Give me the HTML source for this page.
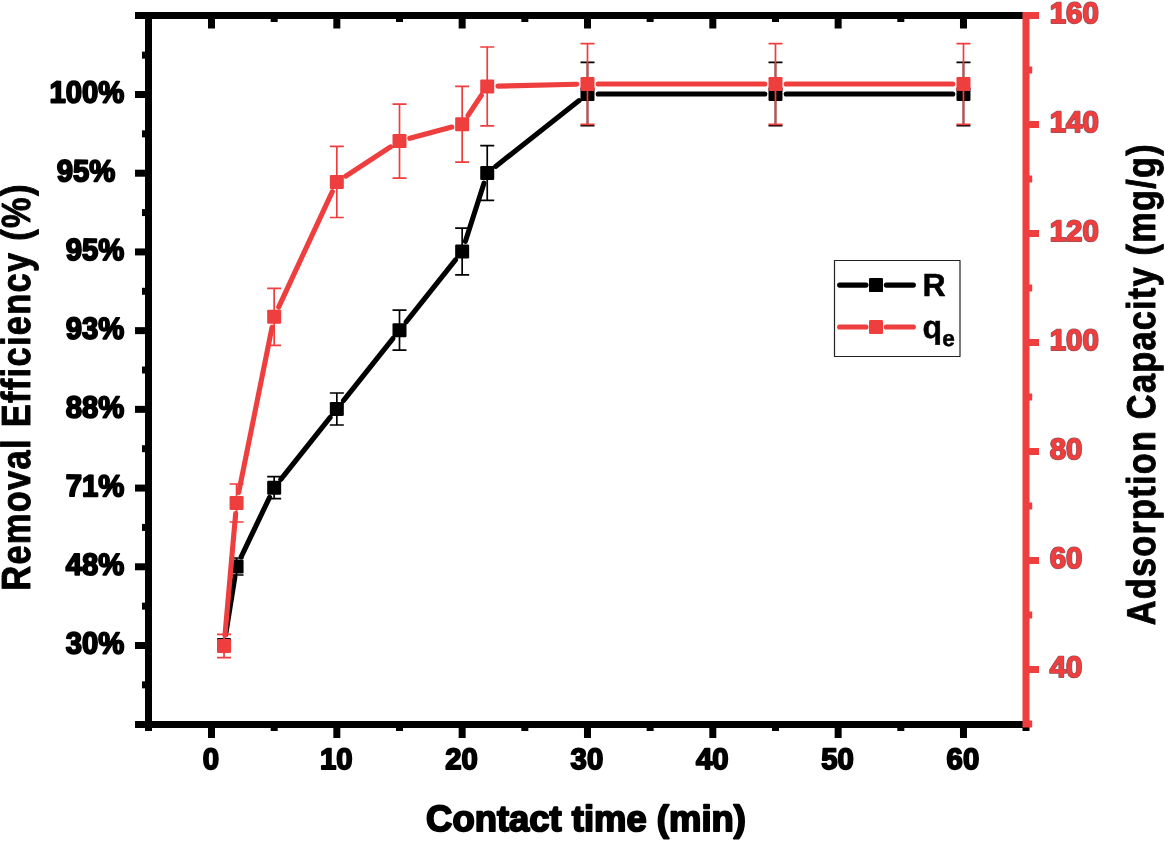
<!DOCTYPE html>
<html lang="en"><head><meta charset="utf-8"><title>Removal efficiency and adsorption capacity chart</title>
<style>html,body{margin:0;padding:0;background:#fff}body{width:1165px;height:841px;overflow:hidden}svg{display:block}</style>
</head><body>
<svg width="1165" height="841" viewBox="0 0 1165 841">
<rect width="1165" height="841" fill="#fff"/>
<g font-family="'Liberation Sans', sans-serif" font-weight="bold" stroke-linejoin="round" text-rendering="geometricPrecision" style="font-kerning:none;font-variant-ligatures:none">
<g fill="#000">
<rect x="135" y="12" width="888" height="7"/>
<rect x="135" y="721" width="888" height="7"/>
<rect x="145" y="12" width="7" height="719"/>
<rect x="135" y="91.00" width="11" height="7"/>
<rect x="135" y="169.71" width="11" height="7"/>
<rect x="135" y="248.43" width="11" height="7"/>
<rect x="135" y="327.14" width="11" height="7"/>
<rect x="135" y="405.86" width="11" height="7"/>
<rect x="135" y="484.57" width="11" height="7"/>
<rect x="135" y="563.28" width="11" height="7"/>
<rect x="135" y="642.00" width="11" height="7"/>
<rect x="142" y="51.64" width="4" height="7"/>
<rect x="142" y="130.36" width="4" height="7"/>
<rect x="142" y="209.07" width="4" height="7"/>
<rect x="142" y="287.78" width="4" height="7"/>
<rect x="142" y="366.50" width="4" height="7"/>
<rect x="142" y="445.21" width="4" height="7"/>
<rect x="142" y="523.93" width="4" height="7"/>
<rect x="142" y="602.64" width="4" height="7"/>
<rect x="142" y="681.36" width="4" height="7"/>
<rect x="208.00" y="18" width="7" height="10.5"/>
<rect x="208.00" y="727" width="7" height="11"/>
<rect x="333.33" y="18" width="7" height="10.5"/>
<rect x="333.33" y="727" width="7" height="11"/>
<rect x="458.66" y="18" width="7" height="10.5"/>
<rect x="458.66" y="727" width="7" height="11"/>
<rect x="583.99" y="18" width="7" height="10.5"/>
<rect x="583.99" y="727" width="7" height="11"/>
<rect x="709.32" y="18" width="7" height="10.5"/>
<rect x="709.32" y="727" width="7" height="11"/>
<rect x="834.65" y="18" width="7" height="10.5"/>
<rect x="834.65" y="727" width="7" height="11"/>
<rect x="959.98" y="18" width="7" height="10.5"/>
<rect x="959.98" y="727" width="7" height="11"/>
<rect x="270.67" y="18" width="7" height="4"/>
<rect x="270.67" y="727" width="7" height="4"/>
<rect x="396.00" y="18" width="7" height="4"/>
<rect x="396.00" y="727" width="7" height="4"/>
<rect x="521.33" y="18" width="7" height="4"/>
<rect x="521.33" y="727" width="7" height="4"/>
<rect x="646.65" y="18" width="7" height="4"/>
<rect x="646.65" y="727" width="7" height="4"/>
<rect x="771.99" y="18" width="7" height="4"/>
<rect x="771.99" y="727" width="7" height="4"/>
<rect x="897.31" y="18" width="7" height="4"/>
<rect x="897.31" y="727" width="7" height="4"/>
<rect x="1022.5" y="727" width="7" height="4"/>
</g>
<g fill="#EF3E3E">
<rect x="1022.5" y="12" width="7" height="715.5"/>
<rect x="1029" y="666.00" width="10" height="7"/>
<rect x="1029" y="557.00" width="10" height="7"/>
<rect x="1029" y="448.00" width="10" height="7"/>
<rect x="1029" y="339.00" width="10" height="7"/>
<rect x="1029" y="230.00" width="10" height="7"/>
<rect x="1029" y="121.00" width="10" height="7"/>
<rect x="1029" y="12.00" width="10" height="7"/>
<rect x="1029" y="720.50" width="3.2" height="7"/>
<rect x="1029" y="611.50" width="3.2" height="7"/>
<rect x="1029" y="502.50" width="3.2" height="7"/>
<rect x="1029" y="393.50" width="3.2" height="7"/>
<rect x="1029" y="284.50" width="3.2" height="7"/>
<rect x="1029" y="175.50" width="3.2" height="7"/>
<rect x="1029" y="66.50" width="3.2" height="7"/>
</g>
<g stroke="#000" stroke-width="5.1" stroke-linecap="round" fill="none">
<line x1="225.72" y1="634.43" x2="234.88" y2="577.07"/>
<line x1="241.17" y1="556.84" x2="269.56" y2="497.36"/>
<line x1="280.83" y1="479.33" x2="330.16" y2="417.37"/>
<line x1="343.49" y1="400.63" x2="392.84" y2="338.57"/>
<line x1="406.16" y1="321.83" x2="455.49" y2="259.87"/>
<line x1="465.41" y1="241.31" x2="483.97" y2="183.19"/>
<line x1="495.63" y1="166.38" x2="579.09" y2="100.62"/>
<line x1="598.19" y1="94.00" x2="764.78" y2="94.00"/>
<line x1="786.19" y1="94.00" x2="952.78" y2="94.00"/>
</g>
<g stroke="#000" stroke-width="1.7" fill="none">
<path d="M224.03 642.00V648.00M217.03 642.00h14M217.03 648.00h14"/>
<path d="M236.57 558.00V575.00M229.57 558.00h14M229.57 575.00h14"/>
<path d="M274.17 476.70V498.70M267.17 476.70h14M267.17 498.70h14"/>
<path d="M336.83 393.00V425.00M329.83 393.00h14M329.83 425.00h14"/>
<path d="M399.50 310.20V350.20M392.50 310.20h14M392.50 350.20h14"/>
<path d="M462.16 228.20V274.80M455.16 228.20h14M455.16 274.80h14"/>
<path d="M487.23 145.70V200.30M480.23 145.70h14M480.23 200.30h14"/>
<path d="M587.49 62.40V125.60M580.49 62.40h14M580.49 125.60h14"/>
<path d="M775.49 62.40V125.60M768.49 62.40h14M768.49 125.60h14"/>
<path d="M963.48 62.40V125.60M956.48 62.40h14M956.48 125.60h14"/>
</g>
<g fill="#000">
<rect x="217.03" y="638.00" width="14" height="14" rx="1.2"/>
<rect x="229.57" y="559.50" width="14" height="14" rx="1.2"/>
<rect x="267.17" y="480.70" width="14" height="14" rx="1.2"/>
<rect x="329.83" y="402.00" width="14" height="14" rx="1.2"/>
<rect x="392.50" y="323.20" width="14" height="14" rx="1.2"/>
<rect x="455.16" y="244.50" width="14" height="14" rx="1.2"/>
<rect x="480.23" y="166.00" width="14" height="14" rx="1.2"/>
<rect x="580.49" y="87.00" width="14" height="14" rx="1.2"/>
<rect x="768.49" y="87.00" width="14" height="14" rx="1.2"/>
<rect x="956.48" y="87.00" width="14" height="14" rx="1.2"/>
</g>
<g stroke="#EF3E3E" stroke-width="5.1" stroke-linecap="round" fill="none">
<line x1="224.97" y1="635.34" x2="235.63" y2="513.66"/>
<line x1="238.68" y1="492.51" x2="272.05" y2="327.29"/>
<line x1="278.67" y1="307.10" x2="332.32" y2="191.60"/>
<line x1="345.80" y1="176.06" x2="390.53" y2="146.94"/>
<line x1="409.83" y1="138.33" x2="451.82" y2="127.07"/>
<line x1="468.06" y1="115.38" x2="481.32" y2="95.32"/>
<line x1="497.92" y1="86.14" x2="576.79" y2="84.26"/>
<line x1="598.19" y1="84.00" x2="764.78" y2="84.00"/>
<line x1="786.19" y1="84.00" x2="952.78" y2="84.00"/>
</g>
<g stroke="#EF3E3E" stroke-width="1.7" fill="none">
<path d="M224.03 634.40V657.60M217.03 634.40h14M217.03 657.60h14"/>
<path d="M236.57 484.00V522.00M229.57 484.00h14M229.57 522.00h14"/>
<path d="M274.17 288.30V345.30M267.17 288.30h14M267.17 345.30h14"/>
<path d="M336.83 146.30V217.50M329.83 146.30h14M329.83 217.50h14"/>
<path d="M399.50 104.10V178.10M392.50 104.10h14M392.50 178.10h14"/>
<path d="M462.16 86.40V162.20M455.16 86.40h14M455.16 162.20h14"/>
<path d="M487.23 47.00V125.80M480.23 47.00h14M480.23 125.80h14"/>
<path d="M587.49 43.70V124.30M580.49 43.70h14M580.49 124.30h14"/>
<path d="M775.49 43.70V124.30M768.49 43.70h14M768.49 124.30h14"/>
<path d="M963.48 43.70V124.30M956.48 43.70h14M956.48 124.30h14"/>
</g>
<g fill="#EF3E3E">
<rect x="217.03" y="639.00" width="14" height="14" rx="1.2"/>
<rect x="229.57" y="496.00" width="14" height="14" rx="1.2"/>
<rect x="267.17" y="309.80" width="14" height="14" rx="1.2"/>
<rect x="329.83" y="174.90" width="14" height="14" rx="1.2"/>
<rect x="392.50" y="134.10" width="14" height="14" rx="1.2"/>
<rect x="455.16" y="117.30" width="14" height="14" rx="1.2"/>
<rect x="480.23" y="79.40" width="14" height="14" rx="1.2"/>
<rect x="580.49" y="77.00" width="14" height="14" rx="1.2"/>
<rect x="768.49" y="77.00" width="14" height="14" rx="1.2"/>
<rect x="956.48" y="77.00" width="14" height="14" rx="1.2"/>
</g>
<rect x="834.5" y="260.5" width="125.5" height="96" fill="#fff" stroke="#222" stroke-width="1.2"/>
<g stroke="#000" stroke-width="5.1" stroke-linecap="round"><line x1="839.6" y1="285.1" x2="866" y2="285.1"/><line x1="886.3" y1="285.1" x2="913.4" y2="285.1"/></g>
<rect x="869" y="278.1" width="14" height="14" rx="1.2" fill="#000"/>
<g stroke="#EF3E3E" stroke-width="5.1" stroke-linecap="round"><line x1="839.6" y1="327.0" x2="866" y2="327.0"/><line x1="886.3" y1="327.0" x2="913.4" y2="327.0"/></g>
<rect x="869" y="320.0" width="14" height="14" rx="1.2" fill="#EF3E3E"/>
<text x="922.6" y="295.6" font-size="32" stroke="#000" stroke-width="0.5">R</text>
<text x="922.6" y="338.4" font-size="32" stroke="#000" stroke-width="0.5">q<tspan font-size="22.5" dy="7.8" dx="0.2">e</tspan></text>
<text transform="translate(124.3 102.60) rotate(0.05) scale(1.008 1.05)" font-size="29" text-anchor="end" stroke="#000" stroke-width="1.8">100%</text>
<text transform="translate(115.3 181.31) rotate(0.05) scale(1.008 1.05)" font-size="29" text-anchor="end" stroke="#000" stroke-width="1.8">95%</text>
<text transform="translate(124.3 260.03) rotate(0.05) scale(1.008 1.05)" font-size="29" text-anchor="end" stroke="#000" stroke-width="1.8">95%</text>
<text transform="translate(124.3 338.74) rotate(0.05) scale(1.008 1.05)" font-size="29" text-anchor="end" stroke="#000" stroke-width="1.8">93%</text>
<text transform="translate(124.3 417.46) rotate(0.05) scale(1.008 1.05)" font-size="29" text-anchor="end" stroke="#000" stroke-width="1.8">88%</text>
<text transform="translate(124.3 496.17) rotate(0.05) scale(1.008 1.05)" font-size="29" text-anchor="end" stroke="#000" stroke-width="1.8">71%</text>
<text transform="translate(124.3 574.88) rotate(0.05) scale(1.008 1.05)" font-size="29" text-anchor="end" stroke="#000" stroke-width="1.8">48%</text>
<text transform="translate(124.3 653.60) rotate(0.05) scale(1.008 1.05)" font-size="29" text-anchor="end" stroke="#000" stroke-width="1.8">30%</text>
<text transform="translate(210.90 769.2) scale(1.01 1.02)" font-size="29" text-anchor="middle" stroke="#000" stroke-width="1.8">0</text>
<text transform="translate(336.23 769.2) scale(1.01 1.02)" font-size="29" text-anchor="middle" stroke="#000" stroke-width="1.8">10</text>
<text transform="translate(461.56 769.2) scale(1.01 1.02)" font-size="29" text-anchor="middle" stroke="#000" stroke-width="1.8">20</text>
<text transform="translate(586.89 769.2) scale(1.01 1.02)" font-size="29" text-anchor="middle" stroke="#000" stroke-width="1.8">30</text>
<text transform="translate(712.22 769.2) scale(1.01 1.02)" font-size="29" text-anchor="middle" stroke="#000" stroke-width="1.8">40</text>
<text transform="translate(837.55 769.2) scale(1.01 1.02)" font-size="29" text-anchor="middle" stroke="#000" stroke-width="1.8">50</text>
<text transform="translate(962.88 769.2) scale(1.01 1.02)" font-size="29" text-anchor="middle" stroke="#000" stroke-width="1.8">60</text>
<g fill="#EF3E3E" stroke="#EF3E3E" stroke-width="0.9">
<text x="1049.7" y="677.00" font-size="29.4" stroke="#4a2030" stroke-width="1.9" stroke-opacity="0.75">40</text>
<text x="1049.7" y="677.00" font-size="29.4">40</text>
<text x="1049.7" y="568.00" font-size="29.4" stroke="#4a2030" stroke-width="1.9" stroke-opacity="0.75">60</text>
<text x="1049.7" y="568.00" font-size="29.4">60</text>
<text x="1049.7" y="459.00" font-size="29.4" stroke="#4a2030" stroke-width="1.9" stroke-opacity="0.75">80</text>
<text x="1049.7" y="459.00" font-size="29.4">80</text>
<text x="1049.7" y="350.00" font-size="29.4" stroke="#4a2030" stroke-width="1.9" stroke-opacity="0.75">100</text>
<text x="1049.7" y="350.00" font-size="29.4">100</text>
<text x="1049.7" y="241.00" font-size="29.4" stroke="#4a2030" stroke-width="1.9" stroke-opacity="0.75">120</text>
<text x="1049.7" y="241.00" font-size="29.4">120</text>
<text x="1049.7" y="132.00" font-size="29.4" stroke="#4a2030" stroke-width="1.9" stroke-opacity="0.75">140</text>
<text x="1049.7" y="132.00" font-size="29.4">140</text>
<text x="1049.7" y="23.00" font-size="29.4" stroke="#4a2030" stroke-width="1.9" stroke-opacity="0.75">160</text>
<text x="1049.7" y="23.00" font-size="29.4">160</text>
</g>
<text x="586" y="830.6" font-size="36.45" text-anchor="middle" stroke="#000" stroke-width="1.9">Contact time (min)</text>
<text transform="translate(30.15 387.0) rotate(-90) scale(1 1.18)" font-size="34.45" letter-spacing="1.3" text-anchor="middle" stroke="#000" stroke-width="0.8">Removal Efficiency (%)</text>
<text transform="translate(1155.3 384.2) rotate(-90) scale(1 1.17)" font-size="34.3" letter-spacing="1.25" text-anchor="middle" stroke="#000" stroke-width="0.8">Adsorption Capacity (mg/g)</text>
</g></svg>
</body></html>
